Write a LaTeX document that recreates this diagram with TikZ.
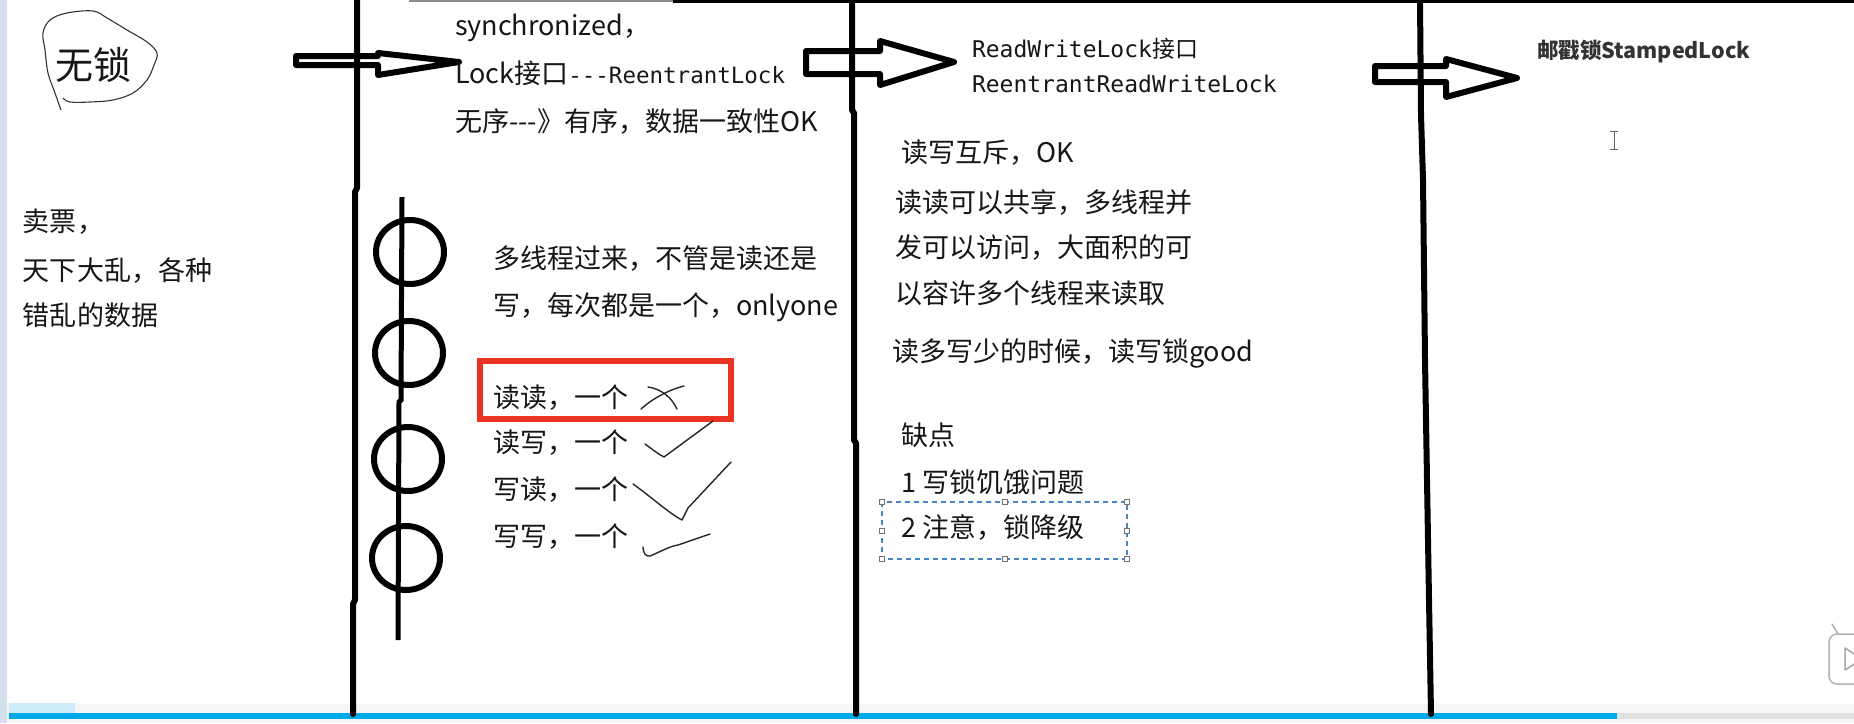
\documentclass[tikz,border=0pt]{standalone}
\usepackage{fontspec}
\setmainfont{Noto Sans CJK SC}
\setmonofont{DejaVu Sans Mono}
\newfontfamily\cjkfont{Noto Sans CJK SC}
\newcommand\hy{-\kern0pt}
\definecolor{txtc}{RGB}{22,22,22}
\definecolor{redbox}{RGB}{234,51,35}
\definecolor{dashc}{RGB}{70,135,200}
\definecolor{barblue}{RGB}{0,170,232}
\definecolor{stripc}{RGB}{214,224,236}
\definecolor{lightblue}{RGB}{205,234,247}
\begin{document}
\begin{tikzpicture}[x=1pt,y=-1pt,
  every node/.style={inner sep=0pt, outer sep=0pt},
  txt/.style={anchor=base west, text=txtc, font=\fontsize{27}{32}\selectfont},
  mono/.style={anchor=base west, text=txtc, font=\fontsize{23}{28}\ttfamily},
  bar/.style={line width=6pt, line cap=round, line join=round},
  blockarrow/.style={line width=6pt, line join=round, fill=white},
  circ/.style={line width=6pt},
  ink/.style={line width=1.4pt, line cap=round, line join=round, black!85},
  handle/.style={draw=black!55, fill=white, line width=0.8pt, minimum size=5pt, inner sep=0pt, rectangle}
]
\useasboundingbox (0,0) rectangle (1854,723);
\begin{scope}
\clip (0,0) rectangle (1854,723);
\fill[white] (0,0) rectangle (1854,723);
\fill[stripc] (0,0) rectangle (7,723);
% top border
\draw[black!45, line width=2pt] (409,1) -- (673,1);
\draw[black, line width=3pt] (673,1) -- (1854,1);

% bottom band
\fill[black!4] (7,704) rectangle (1854,723);
\fill[lightblue] (9,703) rectangle (75,713);
\fill[barblue] (9,713) rectangle (1617,719);
\fill[black!12] (1617,713) rectangle (1854,719);

% blob around 无锁
\draw[black!80, line width=1.1pt] plot[smooth, tension=0.6] coordinates {(61,110) (55,93) (48,73) (45,50) (43,33) (50,20) (67,13) (93,11) (107,18) (127,30) (147,42) (157,53) (154,65) (147,80) (133,93) (113,100) (90,102) (70,102) (63,98)};
\node[anchor=base west, text=txtc, font=\fontsize{38}{44}\selectfont] (wusuo) at (55,79) {无锁};

% block arrows
\draw[blockarrow] (296,56) -- (378,56) -- (378,53) -- (459,62) -- (378,75) -- (378,65) -- (296,65) -- cycle;
\draw[blockarrow] (806,51) -- (880,51) -- (880,41) -- (954,62) -- (880,85) -- (880,74) -- (806,74) -- cycle;
\draw[blockarrow] (1375,66) -- (1446,66) -- (1446,59) -- (1517,78) -- (1446,97) -- (1446,82) -- (1375,82) -- cycle;

% vertical separators
\draw[bar] (357,0) -- (357,188) -- (355,192) -- (355,600) -- (353,604) -- (353,714);
\draw[bar] (852,0) -- (852,110) -- (854,113) -- (854,440) -- (856,443) -- (856,714);
\draw[bar] (1420,0) -- (1421,115) -- (1423,180) -- (1425,360) -- (1427,480) -- (1429,600) -- (1431,714);

% left column text
\node[txt] (t1) at (23,231) {卖票，};
\node[txt] (t2) at (23,280) {天下大乱，各种};
\node[txt] (t3) at (23,325) {错乱的数据};

% column 2 text
\node[txt] (s1) at (455,35) {synchronized，};
\node[txt] (s2) at (455,83) {Lock接口{\fontsize{22.5}{27}\ttfamily \hy\hy\hy ReentrantLock}};
\node[txt] (s3) at (455,131) {无序\hy\hy\hy》有序，数据一致性OK};

% thread line with circles
\draw[line width=5pt] (402,197) -- (401,400) -- (399,402) -- (398,640);
\draw[circ] (410,252) ellipse [x radius=34pt, y radius=32pt];
\draw[circ] (409,353) ellipse [x radius=34pt, y radius=32pt];
\draw[circ] (408,459) ellipse [x radius=34pt, y radius=32pt];
\draw[circ] (406,558) ellipse [x radius=34pt, y radius=32pt];

\node[txt] (m1) at (493,268) {多线程过来，不管是读还是};
\node[txt] (m2) at (493,315) {写，每次都是一个，onlyone};

\draw[redbox, line width=6pt] (480,361) rectangle (731,419);
\node[txt] (r1) at (493,407) {读读，一个};
\node[txt] (r2) at (493,452) {读写，一个};
\node[txt] (r3) at (493,499) {写读，一个};
\node[txt] (r4) at (493,546) {写写，一个};

% hand-drawn marks
\draw[ink] (641,409) .. controls (652,399) and (668,390) .. (684,386);
\draw[ink] (648,387) .. controls (662,389) and (672,398) .. (677,409);
\draw[ink] (645,444) .. controls (652,449) and (658,454) .. (664,457) -- (713,421);
\draw[ink] (633,484) .. controls (650,496) and (670,514) .. (682,520) -- (688,508) -- (731,462);
\draw[ink] (643,547) .. controls (643,553) and (646,557) .. (650,556) .. controls (660,552) and (670,546) .. (678,545) -- (710,534);

% column 3 text
\node[mono] (w1) at (972,57) {ReadWriteLock{\cjkfont\fontsize{23}{28}\selectfont 接口}};
\node[mono] (w2) at (972,92) {ReentrantReadWriteLock};
\node[txt] (w3) at (901,162) {读写互斥，OK};
\node[txt] (w4) at (895,212) {读读可以共享，多线程并};
\node[txt] (w5) at (895,257) {发可以访问，大面积的可};
\node[txt] (w6) at (895,303) {以容许多个线程来读取};
\node[txt] (w7) at (892,361) {读多写少的时候，读写锁good};
\node[txt] (w8) at (901,445) {缺点};
\node[txt] (w9) at (901,492) {1 写锁饥饿问题};
\node[txt] (w10) at (901,537) {2 注意，锁降级};

% selection box
\draw[dashc, line width=1.2pt, dash pattern=on 5pt off 4pt] (882,502) rectangle (1127,559);
\foreach \p in {(882,502),(1004.5,502),(1127,502),(882,530.5),(1127,530.5),(882,559),(1004.5,559),(1127,559)}
  \node[handle] at \p {};

% column 4
\node[anchor=base west, text=black!80, font=\fontsize{21.5}{26}\selectfont\bfseries] (st) at (1537,58) {邮戳锁StampedLock};
\draw[black!60, line width=1pt] (1614,131) -- (1614,149) (1610,131) -- (1618,131) (1610,149) -- (1618,149);

% play icon at the lower right edge
\draw[black!30, line width=1.5pt, fill=white, rounded corners=8pt] (1829,634) rectangle (1880,684);
\draw[black!35, line width=1.5pt, line join=round] (1845,648) -- (1845,670) -- (1862,659) -- cycle;
\draw[black!30, line width=1.5pt, line cap=round] (1838,634) -- (1832,624);
\end{scope}
\end{tikzpicture}
\end{document}
